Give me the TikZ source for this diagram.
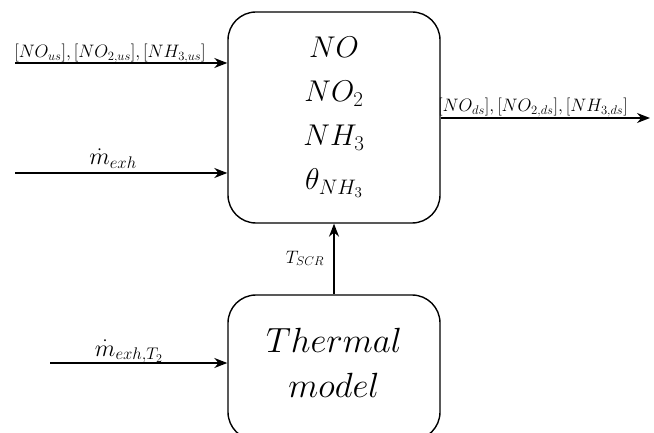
\RequirePackage{fix-cm}
\documentclass[tikz,border=0pt]{standalone}
\usetikzlibrary{arrows.meta}
\tikzset{
  block/.style={draw, line width=1.4pt, rounded corners=28pt, align=center, inner sep=0pt},
  flow/.style={line width=1.4pt, -{Stealth[length=13pt,width=10pt]}},
  sig/.style={inner sep=0pt, anchor=base, font=\fontsize{18}{20}\selectfont},
  bigsig/.style={sig, font=\fontsize{24}{26}\selectfont},
}
\begin{document}
\begin{tikzpicture}[x=1pt,y=-1pt]
\useasboundingbox (0,0) rectangle (654,433);
\clip (0,0) rectangle (654,433);

% SCR catalyst block with its states
\node[block, minimum width=212pt, minimum height=211pt,
      font=\fontsize{30}{44}\selectfont] (scr) at (334,117.5)
  {$NO$\\$NO_2$\\$NH_3$\\$\theta_{NH_3}$};

% thermal model block (runs past the lower edge)
\node[block, minimum width=212pt, minimum height=145pt,
      font=\fontsize{35}{45}\selectfont, text depth=10pt] (thermal) at (334,367.5)
  {$Thermal$\\$model$};

% inputs to the SCR block
\coordinate (in1) at (15,63);
\coordinate (in2) at (15,173);
\draw[flow] (in1) -- (scr.west |- in1);
\draw[flow] (in2) -- (scr.west |- in2);
\node[sig] (lab1) at (110,58) {$[NO_{us}],[NO_{2,us}],[NH_{3,us}]$};
\node[bigsig] (lab2) at (113,165) {$\dot m_{exh}$};

% input to the thermal model
\coordinate (in3) at (50,363);
\draw[flow] (in3) -- (thermal.west |- in3);
\node[bigsig] (lab3) at (129,356) {$\dot m_{exh,T_2}$};

% SCR outlet
\coordinate (out) at (650,118);
\draw[flow] (scr.east |- out) -- (out);
\node[sig] (lab4) at (533,112) {$[NO_{ds}],[NO_{2,ds}],[NH_{3,ds}]$};

% catalyst temperature
\draw[flow] (thermal.north) -- (scr.south);
\node[sig] (lab5) at (305,263) {$T_{SCR}$};
\end{tikzpicture}
\end{document}
